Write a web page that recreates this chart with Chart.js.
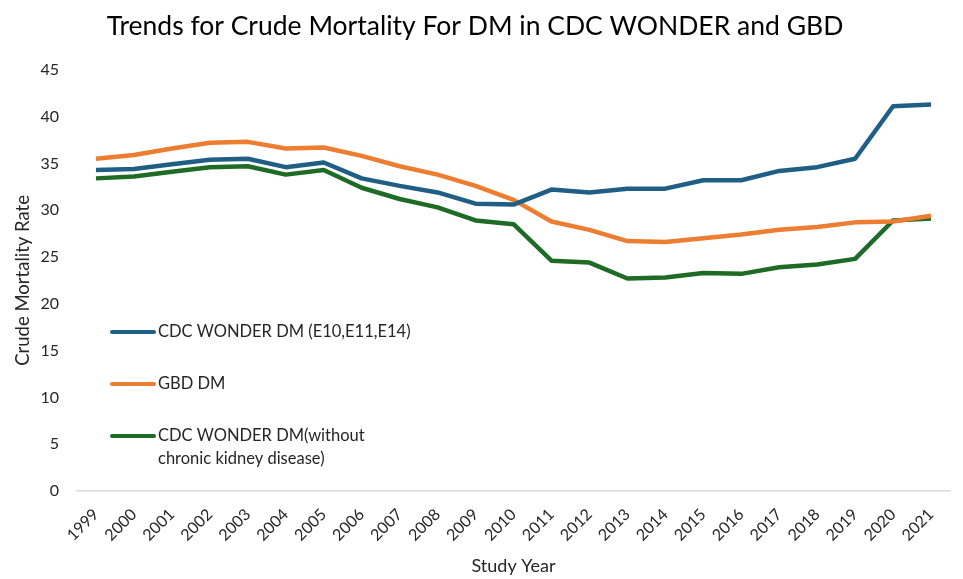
<!DOCTYPE html>
<html>
<head>
<meta charset="utf-8">
<script src="https://cdn.jsdelivr.net/npm/chart.js@4.4.0/dist/chart.umd.min.js"></script>
<style>
  html, body { margin: 0; padding: 0; background: #fff; }
  #wrap { width: 963px; height: 579px; position: relative; }
</style>
</head>
<body>
<div id="wrap"><canvas id="mortalityChart"></canvas></div>
<script>
// Study years on the x axis
const years = ['1999', '2000', '2001', '2002', '2003', '2004', '2005', '2006', '2007', '2008', '2009', '2010',
               '2011', '2012', '2013', '2014', '2015', '2016', '2017', '2018', '2019', '2020', '2021'];

// Crude mortality rates
const cdcWonder = [34.3, 34.4, 34.9, 35.4, 35.5, 34.6, 35.1, 33.4, 32.6, 31.9, 30.7, 30.6,
                   32.2, 31.9, 32.3, 32.3, 33.2, 33.2, 34.2, 34.6, 35.5, 41.1, 41.3];
const gbd = [35.5, 35.9, 36.6, 37.2, 37.3, 36.6, 36.7, 35.8, 34.7, 33.8, 32.6, 31.1,
             28.8, 27.9, 26.7, 26.6, 27.0, 27.4, 27.9, 28.2, 28.7, 28.8, 29.4];
const cdcNoCkd = [33.4, 33.6, 34.1, 34.6, 34.7, 33.8, 34.3, 32.4, 31.2, 30.3, 28.9, 28.5,
                  24.6, 24.4, 22.7, 22.8, 23.3, 23.2, 23.9, 24.2, 24.8, 28.9, 29.1];

const seriesLabels = ['CDC WONDER DM (E10,E11,E14)', 'GBD DM', 'CDC WONDER DM(without\nchronic kidney disease)'];
const yTicks = [0, 5, 10, 15, 20, 25, 30, 35, 40, 45];

const FONT = 'Lato, "Open Sans", sans-serif';
const TEXT = '#262626';

// Legend sits inside the plot, on the left, like the original
const insideLegend = {
    id: 'insideLegend',
    afterDraw(chart) {
        const ctx = chart.ctx;
        const area = chart.chartArea;
        const rowsY = [332, 384, 436];
        ctx.save();
        ctx.font = '16.5px ' + FONT;
        ctx.fillStyle = TEXT;
        ctx.textBaseline = 'middle';
        ctx.lineCap = 'round';
        chart.data.datasets.forEach(function(ds, i) {
            const y = rowsY[i];
            const x0 = area.left + 35;
            ctx.strokeStyle = ds.borderColor;
            ctx.lineWidth = 4;
            ctx.beginPath();
            ctx.moveTo(x0, y);
            ctx.lineTo(x0 + 42, y);
            ctx.stroke();
            ds.label.split('\n').forEach(function(line, k) {
                ctx.fillText(line, x0 + 46, y + k * 23);
            });
        });
        ctx.restore();
    }
};

new Chart(document.getElementById('mortalityChart').getContext('2d'), {
    type: 'line',
    data: {
        labels: years,
        datasets: [{
            label: seriesLabels[0],
            data: cdcWonder,
            borderColor: '#1f5f85',
            borderWidth: 4.5
        }, {
            label: seriesLabels[1],
            data: gbd,
            borderColor: '#ed7d31',
            borderWidth: 4.5
        }, {
            label: seriesLabels[2],
            data: cdcNoCkd,
            borderColor: '#1e6b25',
            borderWidth: 4.5
        }]
    },
    options: {
        responsive: true,
        maintainAspectRatio: false,
        animation: false,
        elements: {
            point: { radius: 0 },
            line: { tension: 0, borderJoinStyle: 'round' }
        },
        layout: {
            padding: { left: 0, right: 13, top: 7, bottom: 2 }
        },
        scales: {
            x: {
                offset: true,
                grid: { display: false, drawTicks: false },
                border: { display: true, color: '#d9d9d9', width: 1.5 },
                ticks: {
                    color: TEXT,
                    font: { family: FONT, size: 16 },
                    maxRotation: 45,
                    minRotation: 45,
                    padding: 14,
                    autoSkip: false
                },
                title: {
                    display: true,
                    text: 'Study Year',
                    color: TEXT,
                    font: { family: FONT, size: 18 },
                    padding: { top: 2, bottom: 0 }
                },
                afterFit: function(scale) { scale.height = 86; }
            },
            y: {
                min: 0,
                max: 45,
                afterBuildTicks: function(scale) {
                    scale.ticks = yTicks.map(function(v) { return { value: v }; });
                },
                grid: { display: false, drawTicks: false },
                border: { display: false },
                ticks: {
                    color: TEXT,
                    font: { family: FONT, size: 16 },
                    padding: 18
                },
                title: {
                    display: true,
                    text: 'Crude Mortality Rate',
                    color: TEXT,
                    font: { family: FONT, size: 18.5 },
                    padding: { top: 12, bottom: 4 }
                },
                afterFit: function(scale) { scale.width = 77; }
            }
        },
        plugins: {
            legend: { display: false },
            tooltip: { enabled: false },
            title: {
                display: true,
                text: 'Trends for Crude Mortality For DM in CDC WONDER and GBD',
                color: '#000000',
                font: { family: FONT, size: 26.5, weight: 'normal' },
                padding: { top: 4, bottom: 27 }
            }
        }
    },
    plugins: [insideLegend]
});
</script>
</body>
</html>
